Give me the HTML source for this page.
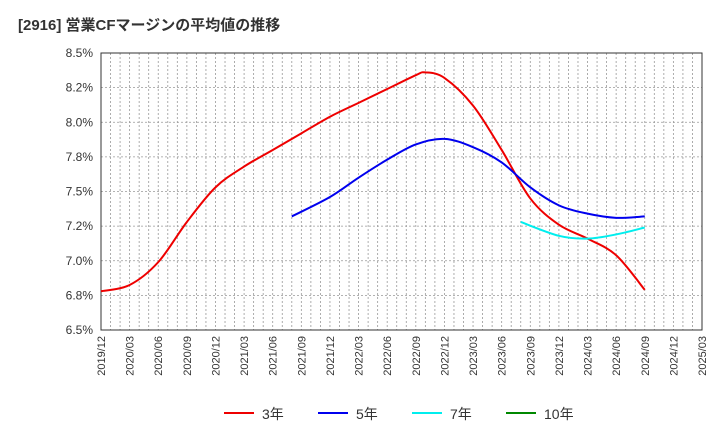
<!DOCTYPE html>
<html><head><meta charset="utf-8"><style>
body{margin:0;background:#fff;font-family:"Liberation Sans","Noto Sans CJK JP",sans-serif}
</style></head><body>
<svg id="c" width="720" height="440" xmlns="http://www.w3.org/2000/svg">
<text x="18" y="30" font-size="15" font-weight="bold" fill="#333">[2916]  営業CFマージンの平均値の推移</text>
<g id="grid"></g><g id="axes"></g><g id="series"></g><g id="legend"></g>
</svg>
<script>
const xLabels=["2019/12","2020/03","2020/06","2020/09","2020/12","2021/03","2021/06","2021/09","2021/12","2022/03","2022/06","2022/09","2022/12","2023/03","2023/06","2023/09","2023/12","2024/03","2024/06","2024/09","2024/12","2025/03"];
const yTicks=[6.5,6.75,7.0,7.25,7.5,7.75,8.0,8.25,8.5];
const yTickLabels=["6.5%","6.8%","7.0%","7.2%","7.5%","7.8%","8.0%","8.2%","8.5%"];
// month index from 2019/12
const months3=[0,3,6,9,12,15,18,21,24,27,30,33,34,36,39,42,45,48,51,54,57];
const values3=[6.78,6.825,6.99,7.28,7.53,7.68,7.80,7.92,8.04,8.14,8.24,8.34,8.36,8.32,8.12,7.80,7.45,7.26,7.16,7.04,6.79];
const months5=[20,24,27,30,33,36,39,42,45,48,51,54,57];
const values5=[7.32,7.46,7.60,7.73,7.84,7.88,7.82,7.71,7.53,7.40,7.34,7.31,7.32];
const months7=[44,48,51,54,57];
const values7=[7.28,7.18,7.16,7.19,7.24];
const months10=[];const values10=[];
const L=101,R=702,T=53,B=330,NM=63;
const xs=m=>L+(R-L)*m/NM;
const ys=v=>B-(B-T)*(v-6.5)/2;
const NS="http://www.w3.org/2000/svg";
function mk(t,a,p){const e=document.createElementNS(NS,t);for(const k in a)e.setAttribute(k,a[k]);p.appendChild(e);return e;}
const grid=document.getElementById('grid'),axes=document.getElementById('axes'),ser=document.getElementById('series'),leg=document.getElementById('legend');
for(let m=1;m<NM;m++){const l=mk('line',{x1:xs(m),x2:xs(m),y1:T,y2:B,stroke:'#999','stroke-width':0.8,'stroke-dasharray':'2,2'},grid);

}
yTicks.forEach((v,i)=>{if(i>0&&i<yTicks.length-1){const l=mk('line',{x1:L,x2:R,y1:ys(v),y2:ys(v),stroke:'#999','stroke-width':0.8,'stroke-dasharray':'2,2'},grid);

}
const t=mk('text',{x:L-8,y:ys(v)+4,'text-anchor':'end','font-size':12,fill:'#333'},axes);t.textContent=yTickLabels[i];

});
const fr=mk('rect',{x:L,y:T,width:R-L,height:B-T,fill:'none',stroke:'#333','stroke-width':1},axes);


xLabels.forEach((s,i)=>{const x=xs(i*3)+4;const t=mk('text',{x:0,y:0,transform:`translate(${x},${B+6}) rotate(-90)`,'text-anchor':'end','font-size':11,fill:'#333'},axes);t.textContent=s;

});
function path(ms,vs){const p=ms.map((m,i)=>[xs(m),ys(vs[i])]);if(!p.length)return '';let d=`M${p[0][0]},${p[0][1]}`;
for(let i=0;i<p.length-1;i++){const p0=p[i-1]||p[i],p1=p[i],p2=p[i+1],p3=p[i+2]||p2;
d+=`C${p1[0]+(p2[0]-p0[0])/6},${p1[1]+(p2[1]-p0[1])/6} ${p2[0]-(p3[0]-p1[0])/6},${p2[1]-(p3[1]-p1[1])/6} ${p2[0]},${p2[1]}`;}return d;}
const S=[[months3,values3,'#ee0000','3年','series-3yr'],[months5,values5,'#0000ee','5年','series-5yr'],[months7,values7,'#00eeee','7年','series-7yr'],[months10,values10,'#008800','10年','series-10yr']];
S.forEach((s,i)=>{if(s[0].length){const p=mk('path',{d:path(s[0],s[1]),fill:'none',stroke:s[2],'stroke-width':2},ser);

}
const lx=224+i*94;const g=mk('g',{},leg);


mk('line',{x1:lx,x2:lx+30,y1:413,y2:413,stroke:s[2],'stroke-width':2},g);
const t=mk('text',{x:lx+38,y:419,'font-size':14,fill:'#333'},g);t.textContent=s[3];});
</script>
</body></html>
